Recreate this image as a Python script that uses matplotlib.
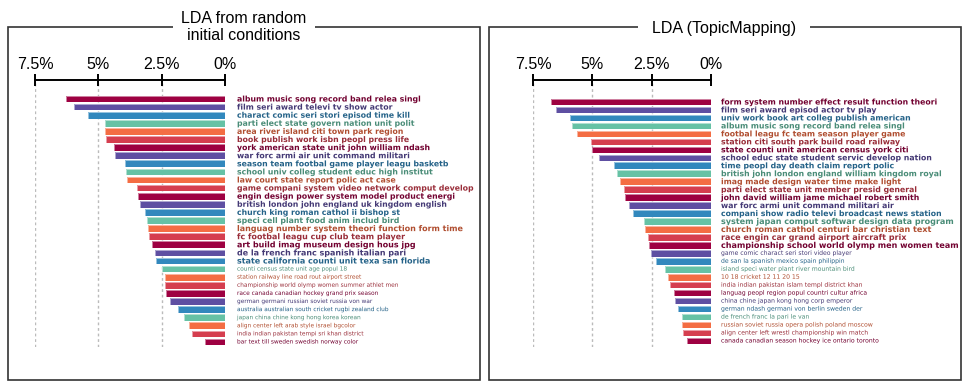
import matplotlib.pyplot as plt
import matplotlib.patheffects as pe
from matplotlib.patches import Rectangle
from matplotlib.colors import to_rgb

# topic labels and their share of the corpus (%)
random_topics = [
    "album music song record band relea singl",
    "film seri award televi tv show actor",
    "charact comic seri stori episod time kill",
    "parti elect state govern nation unit polit",
    "area river island citi town park region",
    "book publish work isbn peopl press life",
    "york american state unit john william ndash",
    "war forc armi air unit command militari",
    "season team footbal game player leagu basketb",
    "school univ colleg student educ high institut",
    "law court state report polic act case",
    "game compani system video network comput develop",
    "engin design power system model product energi",
    "british london john england uk kingdom english",
    "church king roman cathol ii bishop st",
    "speci cell plant food anim includ bird",
    "languag number system theori function form time",
    "fc footbal leagu cup club team player",
    "art build imag museum design hous jpg",
    "de la french franc spanish italian pari",
    "state california counti unit texa san florida",
    "counti census state unit age popul 18",
    "station railway line road rout airport street",
    "championship world olymp women summer athlet men",
    "race canada canadian hockey grand prix season",
    "german germani russian soviet russia von war",
    "australia australian south cricket rugbi zealand club",
    "japan china chine kong hong korea korean",
    "align center left arab style israel bgcolor",
    "india indian pakistan tempi sri khan district",
    "bar text till sweden swedish norway color",
]
random_share = [6.29, 5.96, 5.41, 4.75, 4.72, 4.68, 4.38, 4.33, 3.95, 3.91,
                3.86, 3.49, 3.43, 3.36, 3.16, 3.09, 3.04, 3.01, 2.87, 2.78,
                2.74, 2.49, 2.37, 2.36, 2.32, 2.17, 1.84, 1.63, 1.42, 1.29,
                0.80]

tm_topics = [
    "form system number effect result function theori",
    "film seri award episod actor tv play",
    "univ work book art colleg publish american",
    "album music song record band relea singl",
    "footbal leagu fc team season player game",
    "station citi south park build road railway",
    "state counti unit american census york citi",
    "school educ state student servic develop nation",
    "time peopl day death claim report polic",
    "british john london england william kingdom royal",
    "imag made design water time make light",
    "parti elect state unit member presid general",
    "john david william jame michael robert smith",
    "war forc armi unit command militari air",
    "compani show radio televi broadcast news station",
    "system japan comput softwar design data program",
    "church roman cathol centuri bar christian text",
    "race engin car grand airport aircraft prix",
    "championship school world olymp men women team",
    "game comic charact seri stori video player",
    "de san la spanish mexico spain philippin",
    "island speci water plant river mountain bird",
    "10 18 cricket 12 11 20 15",
    "india indian pakistan islam templ district khan",
    "languag peopl region popul countri cultur africa",
    "china chine japan kong hong corp emperor",
    "german ndash germani von berlin sweden der",
    "de french franc la pari le van",
    "russian soviet russia opera polish poland moscow",
    "align center left wrestl championship win match",
    "canada canadian season hockey ice ontario toronto",
]
tm_share = [6.74, 6.53, 5.94, 5.87, 5.65, 5.04, 5.00, 4.72, 4.07, 3.95,
            3.85, 3.67, 3.62, 3.46, 3.30, 2.81, 2.78, 2.64, 2.61, 2.53,
            2.30, 1.92, 1.83, 1.74, 1.56, 1.52, 1.40, 1.21, 1.21, 1.18,
            1.03]

tick_values = [7.5, 5, 2.5, 0]
tick_labels = ["7.5%", "5%", "2.5%", "0%"]

palette = ["#9e0142", "#5e4fa2", "#3288bd", "#66c2a5", "#f46d43", "#d53e4f"]

W, H = 969, 388
fig = plt.figure(figsize=(W / 100, H / 100), dpi=100)


def fx(px):
    return px / W


def fy(py):
    return 1 - py / H


def darker(c, f):
    r, g, b = to_rgb(c)
    return (r * f, g * f, b * f)


def panel(x0, x1, y_first, y_last, topics, shares, n_bold, big_rows,
          text_gap, bold_size, big_size, small_size):
    top, bottom = 80, 347
    ax = fig.add_axes([fx(x0), fy(bottom), fx(x1 - x0), (bottom - top) / H])
    step = (y_last - y_first) / (len(topics) - 1)
    ax.set_ylim(len(topics) - 1 + (bottom - y_last) / step, -(y_first - top) / step)
    ax.set_xlim(7.5, 0)
    ypos = list(range(len(topics)))
    colors = [palette[i % len(palette)] for i in ypos]
    ax.barh(ypos, shares, height=0.82, color=colors, linewidth=0)
    ax.barh(ypos, shares, height=0.82, color="none", edgecolor="white",
            linewidth=0.6, alpha=0.6)
    for v in tick_values[:-1]:
        ax.axvline(v, color="#bbbbbb", ls=(0, (2, 2)), lw=1.0, zorder=0)
    for spine in ["left", "right", "bottom"]:
        ax.spines[spine].set_visible(False)
    ax.spines["top"].set_linewidth(1.4)
    ax.xaxis.tick_top()
    ax.set_xticks(tick_values)
    ax.set_xticklabels(tick_labels, fontfamily="Liberation Sans", fontsize=11.5)
    ax.tick_params(axis="x", direction="inout", length=8, width=1.4, pad=2)
    ax.set_yticks([])
    px_per_unit = (x1 - x0) / 7.5
    for i, (t, c) in enumerate(zip(topics, colors)):
        bold = i < n_bold
        size = bold_size if bold else small_size
        if i in big_rows:
            size = big_size
        ax.text(-text_gap / px_per_unit, i, t, ha="left", va="center",
                fontsize=size, fontweight="bold" if bold else "normal",
                color=darker(c, 0.72), clip_on=False,
                path_effects=[pe.withStroke(linewidth=1.2, foreground="white")])
    return ax


panel(35, 225, 99, 342, random_topics, random_share, 21, range(16, 21), 12,
      5.6, 5.75, 4.2)
panel(533, 711, 102, 341, tm_topics, tm_share, 19, range(15, 19), 10,
      5.6, 5.8, 4.4)

# panel frames with titles breaking the top edge
for x0, x1 in [(8, 480), (489, 961)]:
    fig.patches.append(Rectangle((fx(x0), fy(380)), fx(x1 - x0), (380 - 27) / H,
                                 transform=fig.transFigure, fill=False,
                                 edgecolor="#333333", linewidth=1.2))

fig.text(fx(244), fy(27), "LDA from random\ninitial conditions", ha="center",
         va="center", fontsize=11.5, fontfamily="Liberation Sans", linespacing=1.15,
         bbox=dict(facecolor="white", edgecolor="none", pad=6))
fig.text(fx(724), fy(28), "LDA (TopicMapping)", ha="center", va="center",
         fontsize=11.5, fontfamily="Liberation Sans",
         bbox=dict(facecolor="white", edgecolor="none", pad=10))

fig.savefig("out.png", dpi=100)
